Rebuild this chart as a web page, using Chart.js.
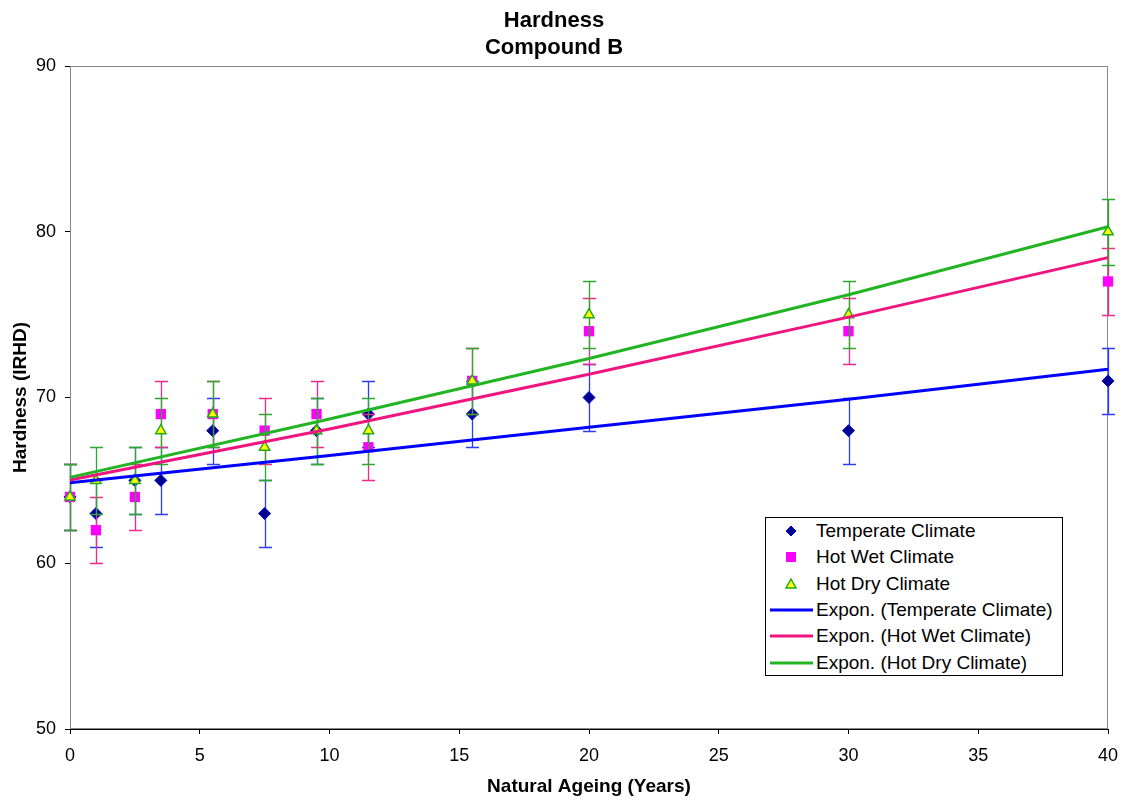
<!DOCTYPE html>
<html>
<head>
<meta charset="utf-8">
<script src="https://cdn.jsdelivr.net/npm/chart.js@4.4.1/dist/chart.umd.min.js"></script>
<style>
  body { margin: 0; background: #fff; font-family: 'Liberation Sans', Arial, sans-serif; }
  #wrap { position: relative; width: 1123px; height: 801px; }
  #legend {
    position: absolute; left: 765px; top: 517px; width: 298px; height: 159px;
    border: 1px solid #000; background: #fff; box-sizing: border-box;
  }
  .row { height: 26.3px; display: flex; align-items: center; font-size: 19px; color: #000; white-space: nowrap; }
  .sym { width: 50px; height: 26px; flex: none; }
</style>
</head>
<body>
<div id="wrap">
  <canvas id="hardness-chart" width="1123" height="801"></canvas>
  <div id="legend"></div>
</div>
<script>
// natural ageing in years
const years = [0, 1, 2.5, 3.5, 5.5, 7.5, 9.5, 11.5, 15.5, 20, 30, 40];
// hardness (IRHD)
const temperate = [64, 63, 65, 65, 68, 63, 68, 69, 69, 70, 68, 71];
const hotWet    = [64, 62, 64, 69, 69, 68, 69, 67, 71, 74, 74, 77];
const hotDry    = [64, 65, 65, 68, 69, 67, 68, 68, 71, 75, 75, 80];
const errAmount = 2; // +/- error bar

// exponential trend lines
const trendYears = [0, 10, 20, 30, 40];
const trendTemperate = [64.86, 66.5, 68.2, 69.9, 71.7];
const trendHotWet    = [65.02, 68.1, 71.4, 74.85, 78.44];
const trendHotDry    = [65.18, 68.7, 72.35, 76.2, 80.3];

const yTicks = [50, 60, 70, 80, 90];
const FONT = "'Liberation Sans', Arial, sans-serif";

function pts(xs, ys) {
    return xs.map((x, i) => ({ x: x, y: ys[i] }));
}

const datasets = [
    { label: 'Temperate Climate', data: pts(years, temperate), showLine: false, order: 5,
      pointStyle: 'rectRot', pointRadius: 6, backgroundColor: '#000090', borderColor: '#0000dd', borderWidth: 1,
      errorColor: '#2a3cff' },
    { label: 'Hot Wet Climate', data: pts(years, hotWet), showLine: false, order: 4,
      pointStyle: 'rect', pointRadius: 7.3, backgroundColor: '#ff00ff', borderColor: '#ff00ff', borderWidth: 0,
      errorColor: '#f5288a' },
    { label: 'Hot Dry Climate', data: pts(years, hotDry), showLine: false, order: 3,
      pointStyle: 'triangle', pointRadius: 6, backgroundColor: '#ffff00', borderColor: '#22aa22', borderWidth: 1.5,
      errorColor: '#2aaa2a' },
    { label: 'Expon. (Temperate Climate)', data: pts(trendYears, trendTemperate), showLine: true, order: 2,
      pointRadius: 0, borderColor: '#0000ff', borderWidth: 3, fill: false },
    { label: 'Expon. (Hot Wet Climate)', data: pts(trendYears, trendHotWet), showLine: true, order: 1,
      pointRadius: 0, borderColor: '#ee1580', borderWidth: 3, fill: false },
    { label: 'Expon. (Hot Dry Climate)', data: pts(trendYears, trendHotDry), showLine: true, order: 0,
      pointRadius: 0, borderColor: '#22b422', borderWidth: 3, fill: false }
];

// gray frame around the plot + error bars under each series
const errorBars = {
    id: 'errorBars',
    beforeDatasetsDraw(chart) {
        const { ctx, chartArea } = chart;
        ctx.save();
        ctx.strokeStyle = '#888';
        ctx.lineWidth = 1;
        ctx.strokeRect(chartArea.left + 0.5, chartArea.top + 0.5, chartArea.width - 1, chartArea.height - 1);
        ctx.restore();
    },
    beforeDatasetDraw(chart, args) {
        const ds = chart.data.datasets[args.index];
        if (!ds.errorColor) return;
        const { ctx, scales: { x, y } } = chart;
        ctx.save();
        ctx.strokeStyle = ds.errorColor;
        ctx.lineWidth = 1.3;
        ds.data.forEach(p => {
            const px = Math.round(x.getPixelForValue(p.x)) + 0.5;
            const top = Math.round(y.getPixelForValue(p.y + errAmount)) + 0.5;
            const bot = Math.round(y.getPixelForValue(p.y - errAmount)) + 0.5;
            ctx.beginPath();
            ctx.moveTo(px, top); ctx.lineTo(px, bot);
            ctx.moveTo(px - 6.5, top); ctx.lineTo(px + 6.5, top);
            ctx.moveTo(px - 6.5, bot); ctx.lineTo(px + 6.5, bot);
            ctx.stroke();
        });
        ctx.restore();
    }
};

const ctx = document.getElementById('hardness-chart').getContext('2d');
const hardnessChart = new Chart(ctx, {
    type: 'scatter',
    data: { datasets: datasets },
    options: {
        responsive: false,
        animation: false,
        layout: { padding: { left: 0, right: 15, top: 0, bottom: 0 } },
        datasets: { scatter: { clip: false } },
        plugins: {
            legend: { display: false },
            tooltip: { enabled: false },
            title: {
                display: true,
                text: ['Hardness', 'Compound B'],
                color: '#000',
                font: { family: FONT, size: 22, weight: 'bold', lineHeight: 1.25 },
                padding: { top: 7, bottom: 4 }
            }
        },
        scales: {
            x: {
                type: 'linear', min: 0, max: 40,
                afterFit(scale) {
                    scale.height = 72;
                    scale.paddingLeft = 0;
                    scale.paddingRight = 0;
                },
                ticks: { stepSize: 5, color: '#000', padding: 11, font: { family: FONT, size: 18 } },
                grid: { display: true, drawOnChartArea: false, tickLength: 5, color: '#000' },
                border: { display: true, color: '#000', width: 1 },
                title: { display: true, text: 'Natural Ageing (Years)', color: '#000',
                         font: { family: FONT, size: 19, weight: 'bold' }, padding: { top: 3, bottom: 3 } }
            },
            y: {
                type: 'linear', min: yTicks[0], max: yTicks[yTicks.length - 1],
                afterFit(scale) { scale.width = 70; },
                afterBuildTicks(scale) { scale.ticks = yTicks.map(v => ({ value: v })); },
                ticks: { color: '#000', padding: 9, font: { family: FONT, size: 18 } },
                grid: { display: true, drawOnChartArea: false, tickLength: 5, color: '#000' },
                border: { display: true, color: '#000', width: 1 },
                title: { display: true, text: 'Hardness (IRHD)', color: '#000',
                         font: { family: FONT, size: 19, weight: 'bold' }, padding: { top: 9, bottom: 4 } }
            }
        }
    },
    plugins: [errorBars]
});

// html legend inside the plot area
function legendSymbol(ds) {
    if (ds.showLine) {
        return '<svg class="sym" viewBox="0 0 50 26"><line x1="4" y1="13" x2="47" y2="13" stroke="' +
            ds.borderColor + '" stroke-width="3"/></svg>';
    }
    let shape = '';
    if (ds.pointStyle === 'rectRot') {
        shape = '<polygon points="25,8 30,13 25,18 20,13" fill="' + ds.backgroundColor + '" stroke="' + ds.borderColor + '"/>';
    } else if (ds.pointStyle === 'rect') {
        shape = '<rect x="20" y="8" width="10" height="10" fill="' + ds.backgroundColor + '"/>';
    } else {
        shape = '<polygon points="25,8 30,17 20,17" fill="' + ds.backgroundColor + '" stroke="' + ds.borderColor + '" stroke-width="1.5"/>';
    }
    return '<svg class="sym" viewBox="0 0 50 26">' + shape + '</svg>';
}

const legendEl = document.getElementById('legend');
legendEl.innerHTML = datasets.map(ds =>
    '<div class="row">' + legendSymbol(ds) + '<span>' + ds.label + '</span></div>'
).join('');
</script>
</body>
</html>
